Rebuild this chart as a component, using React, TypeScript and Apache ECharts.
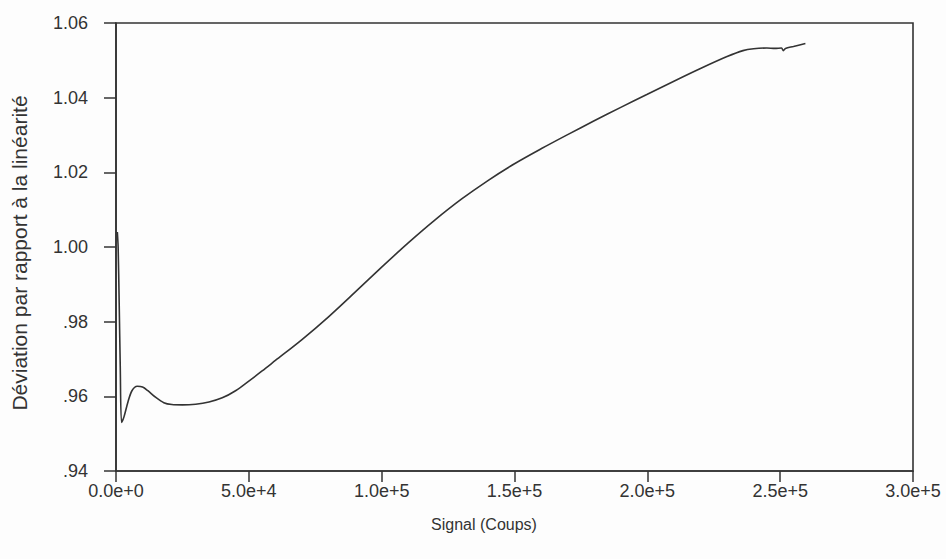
import React, { useEffect, useRef } from "react";
import * as echarts from "echarts";

const signalCounts: number[] = [
  500, 800, 1200, 1600, 2100, 3000, 4500, 6000, 8000, 10000, 12000, 15000, 18000,
  21000, 25000, 30000, 35000, 40000, 45000, 50000, 55000, 60000, 70000, 80000, 90000,
  100000, 110000, 120000, 130000, 140000, 150000, 160000, 170000, 180000, 190000,
  200000, 210000, 220000, 230000, 236000, 240000, 245000, 248000, 250500, 251200,
  252000, 255000, 259500,
];
const deviation: number[] = [
  1.004, 1.0, 0.985, 0.968, 0.953, 0.9545, 0.9585, 0.9615, 0.9627, 0.9625, 0.9615, 0.9597, 0.9583,
  0.9578, 0.9577, 0.9579, 0.9585, 0.9596, 0.9615, 0.9641, 0.9668, 0.9696, 0.9752, 0.9813, 0.9879,
  0.9946, 1.0011, 1.0072, 1.0128, 1.0178, 1.0223, 1.0263, 1.0301, 1.0338, 1.0374,
  1.0409, 1.0444, 1.0478, 1.051, 1.0526, 1.0531, 1.0533, 1.0532, 1.0533, 1.0526,
  1.0532, 1.0537, 1.0545,
];
const xTickLabels: Record<number, string> = {
  0: "0.0e+0", 50000: "5.0e+4", 100000: "1.0e+5", 150000: "1.5e+5",
  200000: "2.0e+5", 250000: "2.5e+5", 300000: "3.0e+5",
};
const yTickLabels: Record<string, string> = {
  "0.94": ".94", "0.96": ".96", "0.98": ".98", "1.00": "1.00",
  "1.02": "1.02", "1.04": "1.04", "1.06": "1.06",
};
const xTitle = "Signal (Coups)";
const yTitle = "Déviation par rapport à la linéarité";

export default function App() {
  const ref = useRef<HTMLDivElement>(null);
  useEffect(() => {
    if (!ref.current) return;
    const chart = echarts.init(ref.current, undefined, { renderer: "svg" });
    const ink = "#333333";
    const font = "Liberation Sans, Arial, Helvetica, sans-serif";
    chart.setOption({
      animation: false,
      backgroundColor: "#fdfdfd",
      grid: {
        left: 116, right: 33, top: 23, bottom: 88,
        show: true, borderColor: ink, borderWidth: 1.6, backgroundColor: "transparent",
      },
      graphic: [
        {
          type: "text",
          x: 484,
          y: 524,
          style: {
            text: xTitle, fill: "#333", fontSize: 16, fontFamily: font,
            textAlign: "center", textVerticalAlign: "middle",
          },
        },
      ],
      xAxis: {
        type: "value", min: 0, max: 300000, interval: 50000,
        axisLine: { show: true, lineStyle: { color: ink, width: 1.6 } },
        axisTick: { show: true, inside: false, length: 11, lineStyle: { color: ink, width: 1.5 } },
        axisLabel: {
          color: "#333", fontSize: 18, fontFamily: font, margin: 11,
          formatter: (v: number) => xTickLabels[v] ?? "",
        },
        splitLine: { show: false },
      },
      yAxis: {
        type: "value", min: 0.94, max: 1.06, interval: 0.02,
        name: yTitle, nameLocation: "middle", nameGap: 86,
        nameTextStyle: { color: "#333", fontSize: 21, fontFamily: font, padding: [0, 12, 0, 0] },
        axisLine: { show: true, lineStyle: { color: ink, width: 1.6 } },
        axisTick: { show: true, inside: false, length: 12, lineStyle: { color: ink, width: 1.5 } },
        axisLabel: {
          color: "#333", fontSize: 18, fontFamily: font, margin: 28,
          formatter: (v: number) => yTickLabels[v.toFixed(2)] ?? "",
        },
        splitLine: { show: false },
      },
      series: [
        {
          type: "line",
          data: signalCounts.map((x, i) => [x, deviation[i]]),
          smooth: 0.3,
          showSymbol: false,
          lineStyle: { color: ink, width: 1.6 },
        },
      ],
    });
    return () => chart.dispose();
  }, []);
  return (
    <div
      ref={ref}
      style={{ position: "absolute", left: 0, top: 0, width: 946, height: 559 }}
    />
  );
}
